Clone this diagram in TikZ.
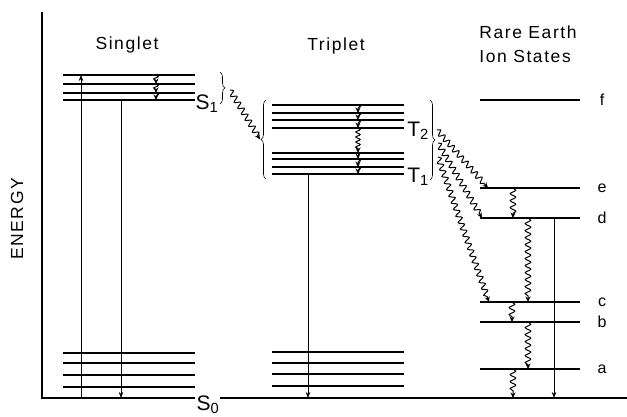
\documentclass[tikz,border=0pt]{standalone}
\usepackage{fontspec}
\setmainfont{Liberation Sans}
\usetikzlibrary{arrows.meta,decorations.pathmorphing,decorations.pathreplacing}

\tikzset{
  lvl/.style={line width=1.5pt},
  drop/.style={line width=0.6pt,-{Stealth[length=6pt,width=4.5pt]}},
  wavy/.style={line width=1pt,decorate,
    decoration={snake,amplitude=2.8pt,segment length=7pt,post length=4pt},
    -{Stealth[length=5.5pt,width=5pt]}},
  brc/.style={line width=0.6pt,decorate,decoration={brace,amplitude=5pt}},
  hdr/.style={font=\fontsize{17.5}{24}\selectfont\addfontfeature{LetterSpace=9}},
  state/.style={font=\fontsize{21}{21}\selectfont},
  small/.style={font=\fontsize{16}{16}\selectfont}
}

\begin{document}
\begin{tikzpicture}[x=1pt,y=-1pt]
  \useasboundingbox (0,0) rectangle (627,417);

  % axis and ground line
  \draw[line width=1.2pt] (42,12) -- (42,398) -- (195,398);
  \draw[line width=1.2pt] (220,398) -- (627,398);
  \node[hdr,rotate=90] (E) at (17,219) {ENERGY};

  % headings
  \node[hdr] (Sg) at (127,45) {Singlet};
  \node[hdr] (Tr) at (336,46) {Triplet};
  \node[hdr,align=left] (RE) at (528,44) {Rare Earth\\Ion States};

  % levels
  \foreach \y in {75,84,93,100,353,363,375,387}
    \draw[lvl] (63,\y) -- (195,\y);
  \foreach \y in {105,113,120,128,153,159,167,174,352,363,374,386}
    \draw[lvl] (272,\y) -- (404,\y);
  \foreach \y/\n in {100/f,188/e,218/d,302/c,322/b,369/a} {
    \draw[lvl] (480,\y) -- (580,\y);
    \node[small] (\n) at (602,\y) {\n};
  }

  % state labels
  \node[state] (S1) at (207,104) {S\textsubscript{1}};
  \node[state] (S0) at (208,405) {S\textsubscript{0}};
  \node[state] (T2) at (418,131) {T\textsubscript{2}};
  \node[state] (T1) at (418,177) {T\textsubscript{1}};

  % braces
  \draw[brc] (220,72) -- (220,104) coordinate[midway,xshift=6pt] (b1);
  \draw[brc,decoration={mirror}] (266,100) -- (266,179) coordinate[midway,xshift=-6pt] (b2);
  \draw[brc] (430,100) -- (430,180);

  % radiative transitions
  \coordinate (x0) at (81,398);  \coordinate (x1) at (81,75);
  \coordinate (f0) at (121,100); \coordinate (f1) at (121,398);
  \coordinate (p0) at (308,174); \coordinate (p1) at (308,398);
  \coordinate (r0) at (554,218); \coordinate (r1) at (554,398);
  \draw[drop] (x0) -- (x1);
  \draw[drop] (f0) -- (f1);
  \draw[drop] (p0) -- (p1);
  \draw[drop] (r0) -- (r1);

  % relaxation inside the manifolds
  \foreach \a/\b in {75/84,84/93,93/100}
    \draw[wavy,decoration={amplitude=2.2pt,segment length=5pt,post length=3pt}] (156,\a) -- (156,\b);
  \foreach \a/\b in {105/113,113/120,120/128,128/153,153/159,159/167,167/174}
    \draw[wavy,decoration={amplitude=2.2pt,segment length=5pt,post length=3pt}] (358,\a) -- (358,\b);

  % intersystem crossing and transfer
  \coordinate (i0) at (230,90);
  \draw[wavy] (i0) -- (b2);
  \coordinate (t1) at (437,130); \coordinate (e1) at (488,188);
  \coordinate (t2) at (438,143); \coordinate (d1) at (482,218);
  \coordinate (t3) at (438,157); \coordinate (c1) at (489,302);
  \draw[wavy] (t1) -- (e1);
  \draw[wavy] (t2) -- (d1);
  \draw[wavy] (t3) -- (c1);

  % ion cascade
  \draw[wavy] (513,188) -- (513,218);
  \draw[wavy] (528,218) -- (528,302);
  \draw[wavy] (512,302) -- (512,322);
  \draw[wavy] (528,322) -- (528,369);
  \draw[wavy] (513,369) -- (513,398);
\end{tikzpicture}
\end{document}
